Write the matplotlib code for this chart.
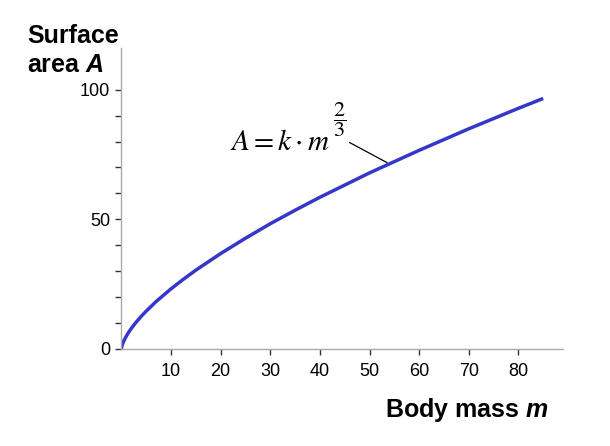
import numpy as np
import matplotlib
matplotlib.use('Agg')
import matplotlib.pyplot as plt

mass = [0, 0.05, 0.1, 0.25, 0.5, 1, 1.5, 2, 3, 4, 5, 7, 10, 12.5, 15, 20, 25, 30,
        35, 40, 50, 60, 70, 80, 85]
area = [0, 0.68, 1.08, 1.98, 3.15, 5.0, 6.55, 7.94, 10.4, 12.6, 14.6, 18.3, 23.2,
        26.9, 30.4, 36.8, 42.7, 48.3, 53.5, 58.5, 67.9, 76.6, 84.9, 92.8, 96.6]

x_ticks = [10, 20, 30, 40, 50, 60, 70, 80]
y_major = [0, 50, 100]
y_minor = [10, 20, 30, 40, 60, 70, 80, 90]

plt.rcParams['font.family'] = ['Liberation Sans', 'DejaVu Sans']
plt.rcParams['mathtext.fontset'] = 'custom'
plt.rcParams['mathtext.rm'] = 'Liberation Sans:bold'
plt.rcParams['mathtext.it'] = 'Liberation Sans:italic:bold'
plt.rcParams['mathtext.bf'] = 'Liberation Sans:bold'

fig = plt.figure(figsize=(6.10, 4.46), dpi=100)
ax = fig.add_axes([0.199, 0.2175, 0.724, 0.6745])

ax.plot(mass, area, color='#3636c8', lw=2.5, solid_capstyle='butt')

ax.set_xlim(0, 89)
ax.set_ylim(0, 116)

for s in ['top', 'right']:
    ax.spines[s].set_visible(False)
for s in ['left', 'bottom']:
    ax.spines[s].set_color('#aaaaaa')
    ax.spines[s].set_linewidth(1.0)

ax.set_xticks(x_ticks)
ax.set_xticklabels([str(t) for t in x_ticks])
ax.set_yticks(y_major)
ax.set_yticklabels([str(t) for t in y_major])
ax.set_yticks(y_minor, minor=True)
ax.tick_params(axis='both', which='both', direction='out', length=4, width=1,
               color='#333333', labelsize=13, pad=4)
ax.tick_params(axis='x', pad=6)

# formula with leader line
ax.text(42.0, 76.9, r'$A = k\cdot m$', math_fontfamily='stix',
        fontsize=21, ha='right', va='baseline')
ax.text(44.0, 88.3, r'$\dfrac{2}{3}$', math_fontfamily='stix',
        fontsize=16, ha='center', va='center')
ax.plot([46.0, 53.5], [79.6, 71.9], color='black', lw=0.9)

fig.text(0.044, 0.839, 'Surface\narea $A$', fontsize=18, fontweight='bold',
         ha='left', va='baseline', linespacing=1.25)
fig.text(0.900, 0.064, 'Body mass $m$', fontsize=18, fontweight='bold',
         ha='right', va='baseline')

fig.savefig('out.png', dpi=100)
